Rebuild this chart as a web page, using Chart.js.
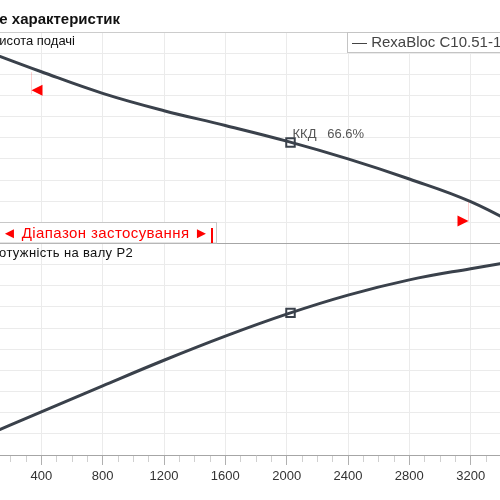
<!DOCTYPE html>
<html>
<head>
<meta charset="utf-8">
<script src="https://cdn.jsdelivr.net/npm/chart.js@4"></script>
<style>
html, body { margin: 0; padding: 0; width: 500px; height: 500px; overflow: hidden; background: #fff; }
#wrap { position: absolute; left: -40px; top: 0; }
</style>
</head>
<body>
<div id="wrap"><canvas id="myChart" width="600" height="500"></canvas></div>
<script>
// flow on x, head (top panel) and shaft power (bottom panel)
const flow  = [0, 400, 800, 1200, 1600, 2000, 2400, 2800, 3200, 3600];
const head  = [9.2, 8.12, 7.10, 6.28, 5.58, 4.84, 4.00, 3.05, 1.98, 0.5];
const power = [0.8, 2.04, 3.27, 4.48, 5.62, 6.66, 7.56, 8.28, 8.81, 9.3];

const duty_flow = 2025;
const duty_head = 4.78;
const duty_power = 6.72;
const duty_eff = "66.6%";

// application range limits
const range_flow = [335, 3180];
const range_line_top = [8.1, 1.96];
const range_line_bottom = [7.06, 1.04];
const range_arrow = [7.25, 1.06];

const x_label_step = 400;
const OFF = 40; // canvas is shifted 40px left of the window

Chart.defaults.font.family = '"Liberation Sans", Arial, sans-serif';

const curveColor = '#3a414b';
const toXY = (xs, ys) => xs.map((x, i) => ({x: x, y: ys[i]}));

const overlay = {
    id: 'overlay',
    afterDraw(chart) {
        const ctx = chart.ctx;
        const sx = chart.scales.x, yH = chart.scales.yH;
        ctx.save();

        // range limits: faint line + red arrow
        range_flow.forEach((f, i) => {
            const px = Math.round(sx.getPixelForValue(f)) + 0.5;
            ctx.strokeStyle = 'rgba(255,0,0,0.18)';
            ctx.lineWidth = 1;
            ctx.beginPath();
            ctx.moveTo(px, yH.getPixelForValue(range_line_top[i]));
            ctx.lineTo(px, yH.getPixelForValue(range_line_bottom[i]));
            ctx.stroke();
            const py = yH.getPixelForValue(range_arrow[i]);
            const dir = i === 0 ? 1 : -1;
            ctx.fillStyle = '#ff0000';
            ctx.beginPath();
            ctx.moveTo(px, py);
            ctx.lineTo(px + dir * 11, py - 5.5);
            ctx.lineTo(px + dir * 11, py + 5.5);
            ctx.closePath();
            ctx.fill();
        });

        // efficiency label at duty point
        ctx.font = '13px "Liberation Sans", Arial, sans-serif';
        ctx.fillStyle = '#555';
        ctx.textAlign = 'left';
        ctx.fillText('ККД   ' + duty_eff, sx.getPixelForValue(duty_flow) + 2, yH.getPixelForValue(duty_head) - 4);

        // title
        ctx.font = 'bold 15px "Liberation Sans", Arial, sans-serif';
        ctx.fillStyle = '#111';
        ctx.textAlign = 'right';
        ctx.fillText('Поле характеристик', 120 + OFF, 24);

        // panel labels
        ctx.font = '13px "Liberation Sans", Arial, sans-serif';
        ctx.fillStyle = '#111';
        ctx.fillText('Висота подачі', 75 + OFF, 45);
        ctx.letterSpacing = '0.35px';
        ctx.fillText('Потужність на валу P2', 133 + OFF, 257);
        ctx.letterSpacing = '0px';

        // legend box
        ctx.fillStyle = '#fff';
        ctx.strokeStyle = '#c4c4c4';
        ctx.fillRect(347.5 + OFF, 32.5, 200, 20);
        ctx.strokeRect(347.5 + OFF, 32.5, 200, 20);
        ctx.textAlign = 'left';
        ctx.font = '15px "Liberation Sans", Arial, sans-serif';
        ctx.fillStyle = '#444';
        ctx.fillText('— RexaBloc C10.51-1', 352 + OFF, 47);

        // application range box
        ctx.fillStyle = '#fff';
        ctx.strokeStyle = '#c8c8c8';
        ctx.fillRect(-5 + OFF, 222.5, 221.5, 20.5);
        ctx.strokeRect(-5 + OFF, 222.5, 221.5, 20.5);
        ctx.font = '15px "Liberation Sans", Arial, sans-serif';
        ctx.fillStyle = '#ff0000';
        ctx.letterSpacing = '0.4px';
        ctx.fillText('◄ Діапазон застосування ►', 2 + OFF, 238);
        ctx.letterSpacing = '0px';
        ctx.fillRect(211 + OFF, 228, 2, 15);

        ctx.restore();
    }
};

const isMajor = c => c.tick && c.tick.value % x_label_step === 0;

new Chart('myChart', {
    type: 'line',
    data: {
        datasets: [
            {
                label: 'Висота подачі',
                data: toXY(flow, head),
                yAxisID: 'yH',
                borderColor: curveColor,
                borderWidth: 3,
                pointRadius: 0,
                tension: 0.4,
                fill: false,
            },
            {
                label: 'Потужність на валу P2',
                data: toXY(flow, power),
                yAxisID: 'yP',
                borderColor: curveColor,
                borderWidth: 3,
                pointRadius: 0,
                tension: 0.4,
                fill: false,
            },
            {
                data: [{x: duty_flow, y: duty_head}],
                yAxisID: 'yH',
                showLine: false,
                pointStyle: 'rect',
                pointRadius: 6,
                pointBackgroundColor: '#fff',
                pointBorderColor: curveColor,
                pointBorderWidth: 2,
            },
            {
                data: [{x: duty_flow, y: duty_power}],
                yAxisID: 'yP',
                showLine: false,
                pointStyle: 'rect',
                pointRadius: 6,
                pointBackgroundColor: '#fff',
                pointBorderColor: curveColor,
                pointBorderWidth: 2,
            },
        ]
    },
    options: {
        responsive: false,
        animation: false,
        layout: { padding: { left: 20, right: 28, top: 32, bottom: 0 } },
        plugins: { legend: { display: false }, tooltip: { enabled: false } },
        scales: {
            x: {
                type: 'linear',
                min: 0,
                max: 3600,
                afterFit: s => { s.height = 45; },
                ticks: {
                    stepSize: 100,
                    autoSkip: false,
                    maxRotation: 0,
                    padding: 4,
                    color: '#333',
                    font: { size: 13 },
                    callback: v => v % x_label_step === 0 ? v : '',
                },
                grid: {
                    color: c => isMajor(c) ? '#ebebeb' : 'rgba(0,0,0,0)',
                    tickLength: 10,
                    tickColor: c => isMajor(c) ? '#b0b0b0' : '#d0d0d0',
                    tickBorderDash: c => isMajor(c) ? [] : [6, 30],
                },
                border: { color: '#a6a6a6' },
            },
            yP: {
                type: 'linear',
                position: 'left',
                stack: 'panels',
                stackWeight: 1,
                min: 0,
                max: 10,
                afterFit: s => { s.width = 0; },
                ticks: { display: false, stepSize: 1 },
                grid: { color: c => c.tick.value === 10 ? '#a6a6a6' : '#ebebeb', drawTicks: false },
                border: { display: false },
            },
            yH: {
                type: 'linear',
                position: 'left',
                stack: 'panels',
                stackWeight: 1,
                min: 0,
                max: 10,
                afterFit: s => { s.width = 0; },
                ticks: { display: false, stepSize: 1 },
                grid: { color: c => c.tick.value === 10 ? '#cccccc' : (c.tick.value === 0 ? '#a6a6a6' : '#ebebeb'), drawTicks: false },
                border: { display: false },
            },
        }
    },
    plugins: [overlay]
});
</script>
</body>
</html>
